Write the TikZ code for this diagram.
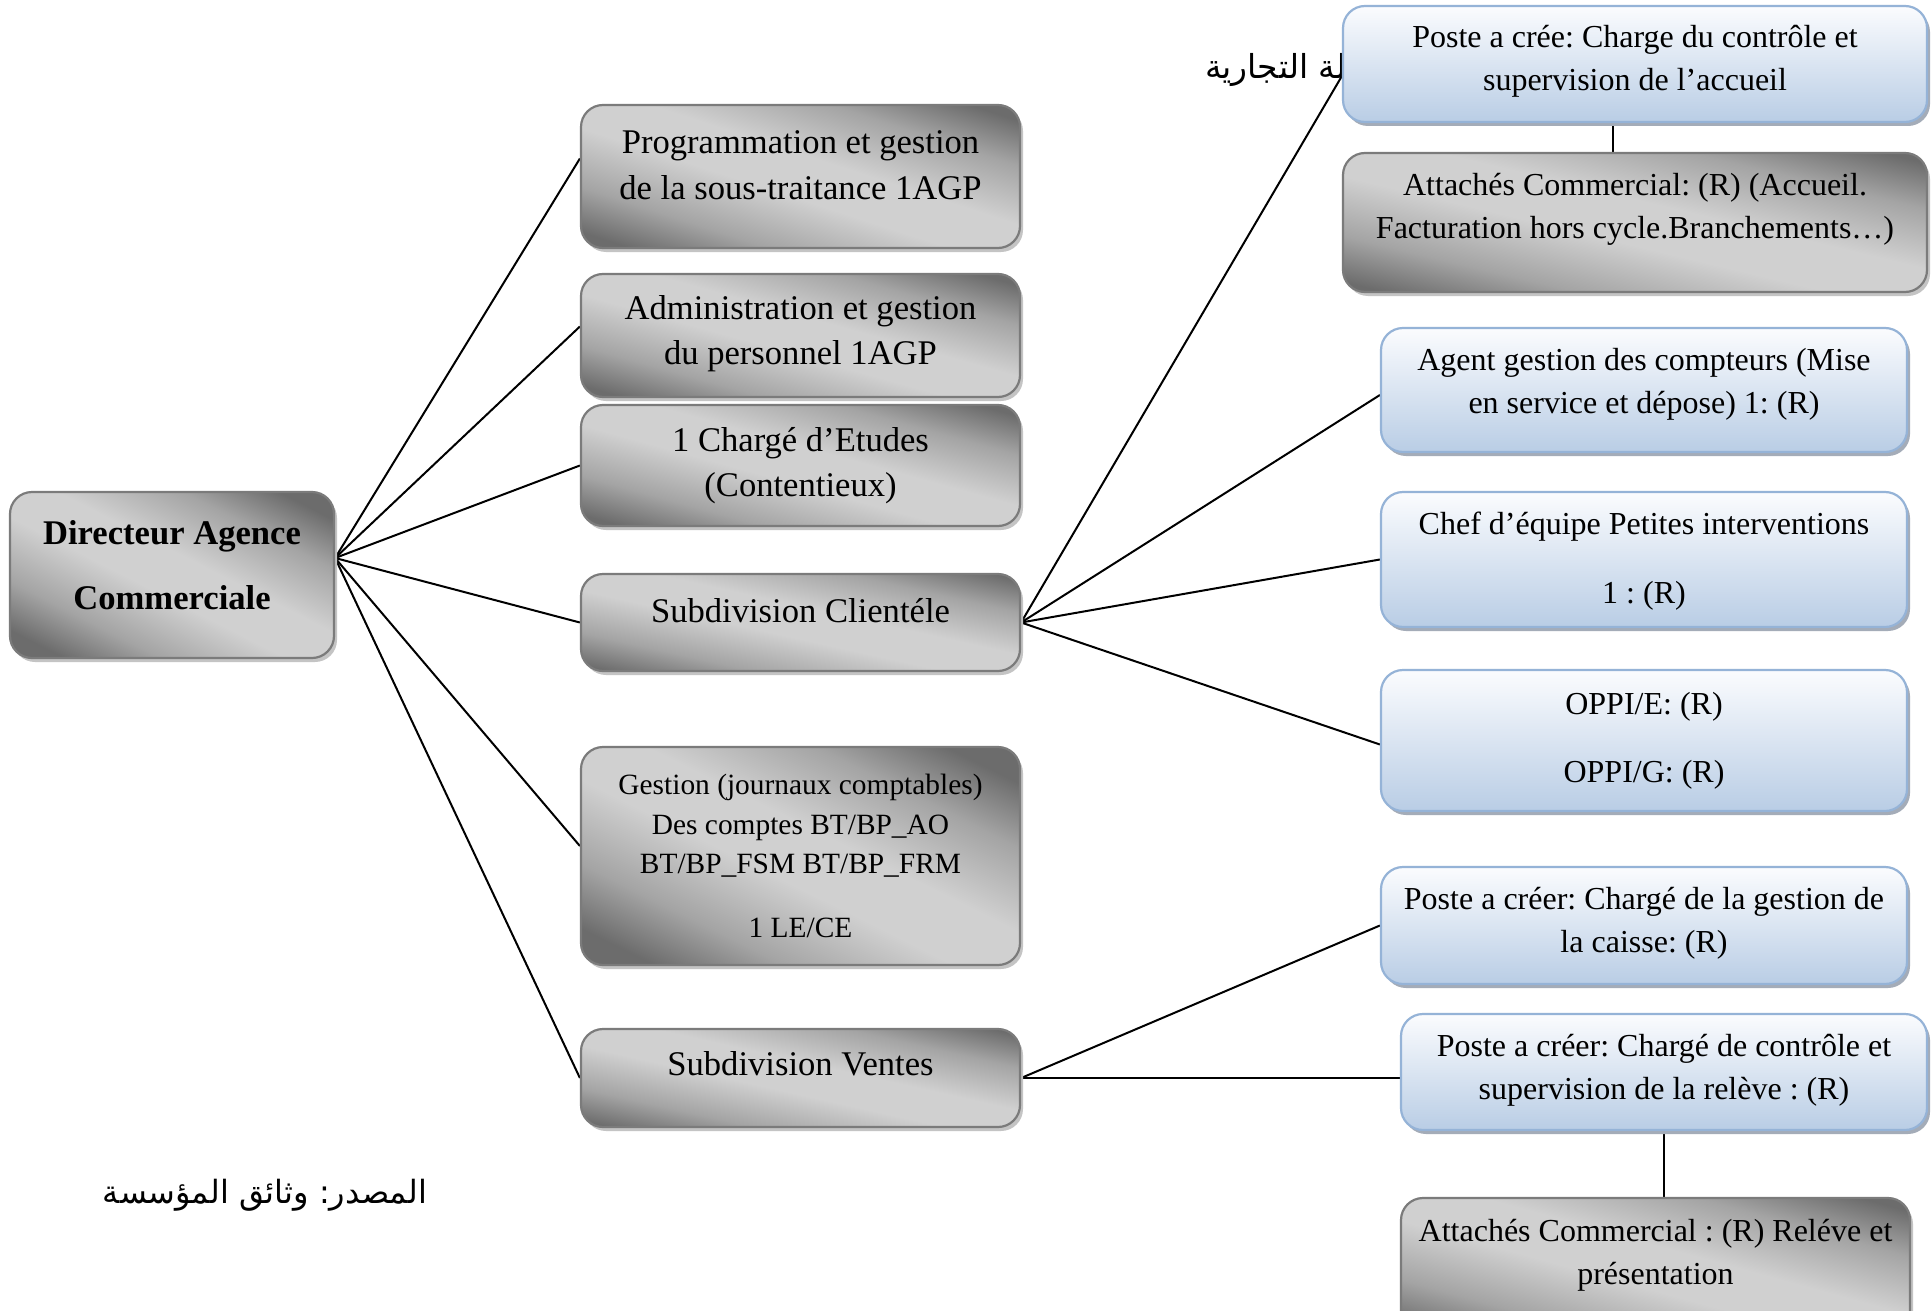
\documentclass[tikz,border=0pt]{standalone}
\usepackage{fontspec}
\setmainfont{Liberation Serif}
\newfontfamily\arabicfont[Script=Arabic]{DejaVu Sans}
\TeXXeTstate=1
\frenchspacing
\usetikzlibrary{shadows,backgrounds}
\definecolor{gdark}{HTML}{6C6C6C}
\definecolor{glight}{HTML}{D0D0D0}
\definecolor{gmid}{HTML}{A4A4A4}
\definecolor{gborder}{HTML}{7B7B7B}
\definecolor{gshadow}{HTML}{C4C4C4}
\definecolor{btop}{HTML}{FBFCFE}
\definecolor{bbot}{HTML}{B9CDE5}
\definecolor{bborder}{HTML}{95B3D7}
\definecolor{bshadow}{HTML}{A4ACB8}
\pgfdeclareverticalshading{graygrad}{100bp}{color(0bp)=(gdark); color(22bp)=(gdark); color(32bp)=(gmid); color(45bp)=(glight); color(55bp)=(glight); color(68bp)=(gmid); color(78bp)=(gdark); color(100bp)=(gdark)}
\newcommand\fDir{\fontsize{17.3}{32.6}\selectfont\bfseries}
\newcommand\fLeft{\fontsize{17.3}{22.8}\selectfont}
\newcommand\fGest{\fontsize{14.7}{19.7}\selectfont}
\newcommand\fRight{\fontsize{16}{21.5}\selectfont}
\tikzset{
  gbox/.style={draw=gborder, line width=1.1pt, rounded corners=11pt,
    shade, shading=graygrad, shading angle=#1,
    drop shadow={shadow xshift=1.5pt, shadow yshift=-2pt, fill=gshadow, opacity=1},
    inner sep=0pt},
  gbox/.default=-20,
  bbox/.style={draw=bborder, line width=1.1pt, rounded corners=11pt,
    top color=btop, bottom color=bbot,
    drop shadow={shadow xshift=1.5pt, shadow yshift=-2pt, fill=bshadow, opacity=1},
    inner sep=0pt},
  txt/.style={align=center, inner sep=0pt, text=black},
  link/.style={line width=1pt, black}
}
\begin{document}
\begin{tikzpicture}[x=0.5pt,y=-0.5pt]
\useasboundingbox (0,0) rectangle (1932,1311);
\begin{scope}[on background layer]
  \fill[white] (0,0) rectangle (1932,1311);
  \node[txt, anchor=east, font=\arabicfont\fontsize{16.5}{20}\selectfont] (title) at (1347,70) {\beginR لة التجارية\endR};
\end{scope}
\node[txt, font=\arabicfont\fontsize{16}{20}\selectfont] (src) at (265,1195) {\beginR المصدر: وثائق المؤسسة\endR};

% Directeur
\node[gbox=-27, minimum width=162pt, minimum height=83pt] (dir) at (172,575) {};
\node[txt, font=\fDir] (dirt) at ([yshift=5pt]dir.center) {Directeur Agence\\Commerciale};

% left column
\node[gbox=-18, minimum width=219.5pt, minimum height=71.5pt] (L1) at (800.5,176.5) {};
\node[txt, font=\fLeft] (L1t) at ([yshift=5.5pt]L1.center) {Programmation et gestion\\de la sous-traitance 1AGP};
\node[gbox=-15.6, minimum width=219.5pt, minimum height=61.5pt] (L2) at (800.5,335.5) {};
\node[txt, font=\fLeft] (L2t) at ([yshift=1pt]L2.center) {Administration et gestion\\du personnel 1AGP};
\node[gbox=-15.4, minimum width=219.5pt, minimum height=60.5pt] (L3) at (800.5,465.5) {};
\node[txt, font=\fLeft] (L3t) at (L3.center) {1 Chargé d’Etudes\\(Contentieux)};
\node[gbox=-12.5, minimum width=219.5pt, minimum height=48.5pt] (L4) at (800.5,622.5) {};
\node[txt, font=\fLeft] (L4t) at ([yshift=6pt]L4.center) {Subdivision Clientéle};
\node[gbox=-26.4, minimum width=219.5pt, minimum height=109pt] (L5) at (800.5,856) {};
\node[txt, font=\fGest] (L5t) at (L5.center) {Gestion (journaux comptables)\\Des comptes BT/BP\_AO\\BT/BP\_FSM BT/BP\_FRM\\[12.3pt]1 LE/CE};
\node[gbox=-12.6, minimum width=219.5pt, minimum height=49pt] (L6) at (800.5,1078) {};
\node[txt, font=\fLeft] (L6t) at ([yshift=7pt]L6.center) {Subdivision Ventes};

% right column
\node[bbox, minimum width=292pt, minimum height=58pt] (R1) at (1635,64) {};
\node[txt, font=\fRight] (R1t) at ([yshift=1.5pt]R1.center) {Poste a crée: Charge du contrôle et\\supervision de l’accueil};
\node[gbox=-13.4, minimum width=292pt, minimum height=69.5pt] (R2) at (1635,222.5) {};
\node[txt, font=\fRight] (R2t) at ([yshift=6.5pt]R2.center) {Attachés Commercial: (R) (Accueil.\\Facturation hors cycle.Branchements…)};
\node[bbox, minimum width=263pt, minimum height=62pt] (R3) at (1644,390) {};
\node[txt, font=\fRight] (R3t) at ([yshift=3pt]R3.center) {Agent gestion des compteurs (Mise\\en service et dépose) 1: (R)};
\node[bbox, minimum width=263pt, minimum height=67.5pt] (R4) at (1644,559.5) {};
\node[txt, font=\fRight] (R4t) at ([yshift=-1pt]R4.center) {Chef d’équipe Petites interventions\\[13pt]1 : (R)};
\node[bbox, minimum width=263pt, minimum height=70.5pt] (R5) at (1644,740.5) {};
\node[txt, font=\fRight] (R5t) at (R5.center) {OPPI/E: (R)\\[12.5pt]OPPI/G: (R)};
\node[bbox, minimum width=263pt, minimum height=58.5pt] (R6) at (1644,925.5) {};
\node[txt, font=\fRight] (R6t) at ([yshift=1pt]R6.center) {Poste a créer: Chargé de la gestion de\\la caisse: (R)};
\node[bbox, minimum width=263pt, minimum height=58pt] (R7) at (1664,1072) {};
\node[txt, font=\fRight] (R7t) at ([yshift=1pt]R7.center) {Poste a créer: Chargé de contrôle et\\supervision de la relève : (R)};
\node[gbox=-15.4, minimum width=254.5pt, minimum height=70pt] (R8) at (1655.5,1268) {};
\node[txt, font=\fRight] (R8t) at ([yshift=6.5pt]R8.center) {Attachés Commercial : (R) Reléve et\\présentation};

% connectors
\begin{scope}[on background layer]
  \coordinate (dirout) at ([yshift=8.5pt]dir.east);
  \draw[link] (dirout) -- ([yshift=9pt]L1.west);
  \draw[link] (dirout) -- ([yshift=4.5pt]L2.west);
  \draw[link] (dirout) -- (L3.west);
  \draw[link] (dirout) -- (L4.west);
  \draw[link] (dirout) -- ([yshift=5pt]L5.west);
  \draw[link] (dirout) -- (L6.west);
  \draw[link] (L4.east) -- ([yshift=-6pt]R1.west);
  \draw[link] (L4.east) -- ([yshift=-2.5pt]R3.west);
  \draw[link] (L4.east) -- (R4.west);
  \draw[link] (L4.east) -- ([yshift=-2pt]R5.west);
  \draw[link] (L6.east) -- (R6.west);
  \draw[link] (L6.east) -- (L6.east -| R7.west);
  \draw[link] ([xshift=-11pt]R1.south) -- ([xshift=-11pt]R2.north);
  \draw[link] (R7.south) -- (R7.south |- R8.north);
\end{scope}
\end{tikzpicture}
\end{document}
